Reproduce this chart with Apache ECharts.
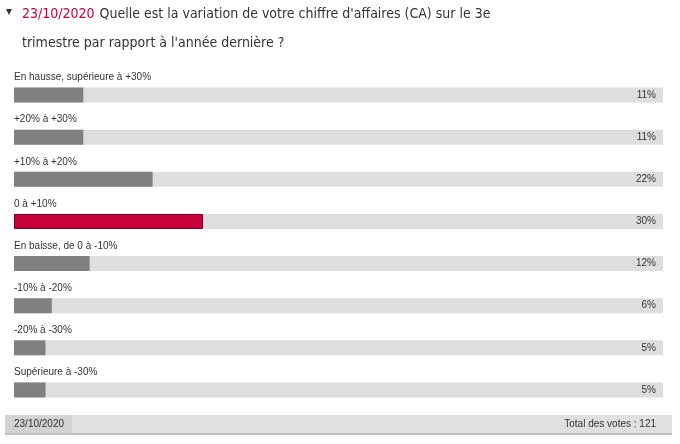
<!DOCTYPE html>
<html>
<head>
<meta charset="utf-8">
<script src="https://cdn.jsdelivr.net/npm/echarts@6/dist/echarts.min.js"></script>
<style>
html,body{margin:0;padding:0;background:#fff;}
#c{width:680px;height:444px;}
</style>
</head>
<body>
<div id="c"></div>
<script>
var categories = [
  "En hausse, supérieure à +30%",
  "+20% à +30%",
  "+10% à +20%",
  "0 à +10%",
  "En baisse, de 0 à -10%",
  "-10% à -20%",
  "-20% à -30%",
  "Supérieure à -30%"
];
var values = [11, 11, 22, 30, 12, 6, 5, 5];
var pctLabels = ["11%", "11%", "22%", "30%", "12%", "6%", "5%", "5%"];
var highlightIndex = 3;
var pollDate = "23/10/2020";
var totalVotes = "Total des votes : 121";

var chart = echarts.init(document.getElementById('c'));
var font = '"Liberation Sans", sans-serif';
var titleFont = '"DejaVu Sans Condensed", "Liberation Sans Narrow", "Liberation Sans", sans-serif';

chart.setOption({
  animation: false,
  backgroundColor: '#fff',
  title: {
    left: 22, top: 0, padding: 0,
    text: '{d|' + pollDate + '} {t|Quelle est la variation de votre chiffre d\'affaires (CA) sur le 3e}\n{t|trimestre par rapport à l\'année dernière ?}',
    textStyle: {
      rich: {
        d: { color: '#c8003c', fontSize: 14, fontWeight: 'normal', fontFamily: titleFont, lineHeight: 29 },
        t: { color: '#333', fontSize: 14, fontWeight: 'normal', fontFamily: titleFont, lineHeight: 29 }
      }
    }
  },
  graphic: [
    { type: 'text', left: 6, top: 6, style: { text: '▾', fill: '#333', fontSize: 12, fontFamily: 'DejaVu Sans' } },
    { type: 'rect', left: 5, top: 415, shape: { width: 667, height: 18 }, style: { fill: '#e0e0e0' } },
    { type: 'rect', left: 5, top: 415, shape: { width: 67, height: 18 }, style: { fill: '#d2d2d2' } },
    { type: 'rect', left: 5, top: 433, shape: { width: 667, height: 2 }, style: { fill: '#bdbdbd' } },
    { type: 'text', left: 14, top: 419, style: { text: pollDate, fill: '#333', fontSize: 10, fontFamily: font } },
    { type: 'text', right: 24, top: 419, style: { text: totalVotes, fill: '#333', fontSize: 10, fontFamily: font, align: 'right' } }
  ],
  grid: { left: 14, right: 17, top: 74, bottom: 33 },
  xAxis: { type: 'value', min: 0, max: 103, show: false },
  yAxis: [
    { type: 'category', data: categories, inverse: true, show: false },
    {
      type: 'category', data: pctLabels, inverse: true, position: 'right', z: 10,
      axisLine: { show: false }, axisTick: { show: false },
      axisLabel: { inside: true, margin: 7, color: '#333', fontSize: 10, fontFamily: font }
    }
  ],
  series: [{
    type: 'bar',
    yAxisIndex: 0,
    barWidth: 15,
    data: values.map(function (v, i) {
      return {
        value: v,
        itemStyle: i === highlightIndex
          ? { color: '#c8003c', borderColor: '#6e0022', borderWidth: 1 }
          : { color: '#808080' }
      };
    }),
    showBackground: true,
    backgroundStyle: { color: '#dedede' },
    label: {
      show: true,
      position: [0, -15],
      formatter: '{b}',
      color: '#333',
      fontSize: 10,
      fontFamily: font
    }
  }]
});
</script>
</body>
</html>
